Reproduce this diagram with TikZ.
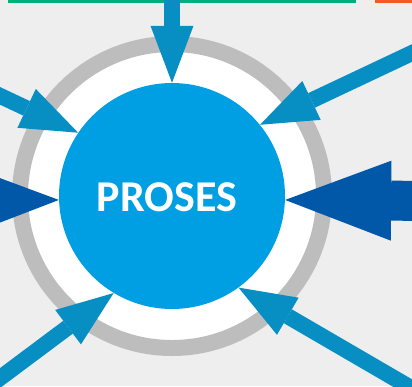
\documentclass[tikz,border=0pt]{standalone}
\usepackage{fontspec}
\usepackage{xcolor}
\usetikzlibrary{arrows.meta}
\newfontfamily\corefont{Carlito}
\definecolor{bgcolor}{HTML}{EEEEEE}
\definecolor{ringgray}{HTML}{BDBDBD}
\definecolor{coreblue}{HTML}{009FE3}
\definecolor{flowblue}{HTML}{078FC4}
\definecolor{mainblue}{HTML}{0157A8}
\definecolor{bargreen}{HTML}{00AF7D}
\definecolor{barorange}{HTML}{F05A24}

\begin{document}
\begin{tikzpicture}[x=1pt,y=-1pt]
  \tikzset{ringdisc/.style={circle,draw=ringgray,line width=16pt,fill=white,minimum size=304pt,inner sep=0pt}}
  \tikzset{coredisc/.style={circle,fill=coreblue,minimum size=226pt,inner sep=0pt}}
  \tikzset{coretext/.style={font=\corefont\bfseries\fontsize{44}{44}\selectfont,text=white,inner sep=0pt}}
  \tikzset{flowarrow/.style={draw=flowblue,line width=16pt,-{Triangle[length=57pt,width=43pt,line width=0pt]}}}
  \tikzset{mainarrow/.style={draw=mainblue,line width=40pt,-{Triangle[length=106pt,width=80pt,line width=0pt]}}}
  \useasboundingbox (0,0) rectangle (412,386);
  \clip (0,0) rectangle (412,386);
  \fill[bgcolor] (0,0) rectangle (412,386);
  \fill[bargreen] (8,0) rectangle (356,3);
  \fill[barorange] (375,0) rectangle (412,3);
  \node[ringdisc] (ring) at (172,196) {};
  \node[coredisc] (core) at (172,196) {};
  \node[coretext] (coretitle) at (167,197.5) {PROSES};
  \coordinate (srctop) at (172,-10);
  \coordinate (srcupright) at (430,44.5);
  \coordinate (srcright) at (440,201);
  \coordinate (srcleft) at (-120,201);
  \coordinate (srcupleft) at (-20,86.4);
  \coordinate (srclowleft) at (-20,393);
  \coordinate (srclowright) at (430,399);
  \draw[flowarrow] (srctop) -- (core.90);
  \draw[flowarrow] (srcupright) -- (core.39.4);
  \draw[mainarrow] (srcright) -- (core.-2.6);
  \draw[mainarrow] (srcleft) -- (core.182.5);
  \draw[flowarrow] (srcupleft) -- (core.146.7);
  \draw[flowarrow] (srclowleft) -- (core.239.7);
  \draw[flowarrow] (srclowright) -- (core.306.8);
\end{tikzpicture}
\end{document}
